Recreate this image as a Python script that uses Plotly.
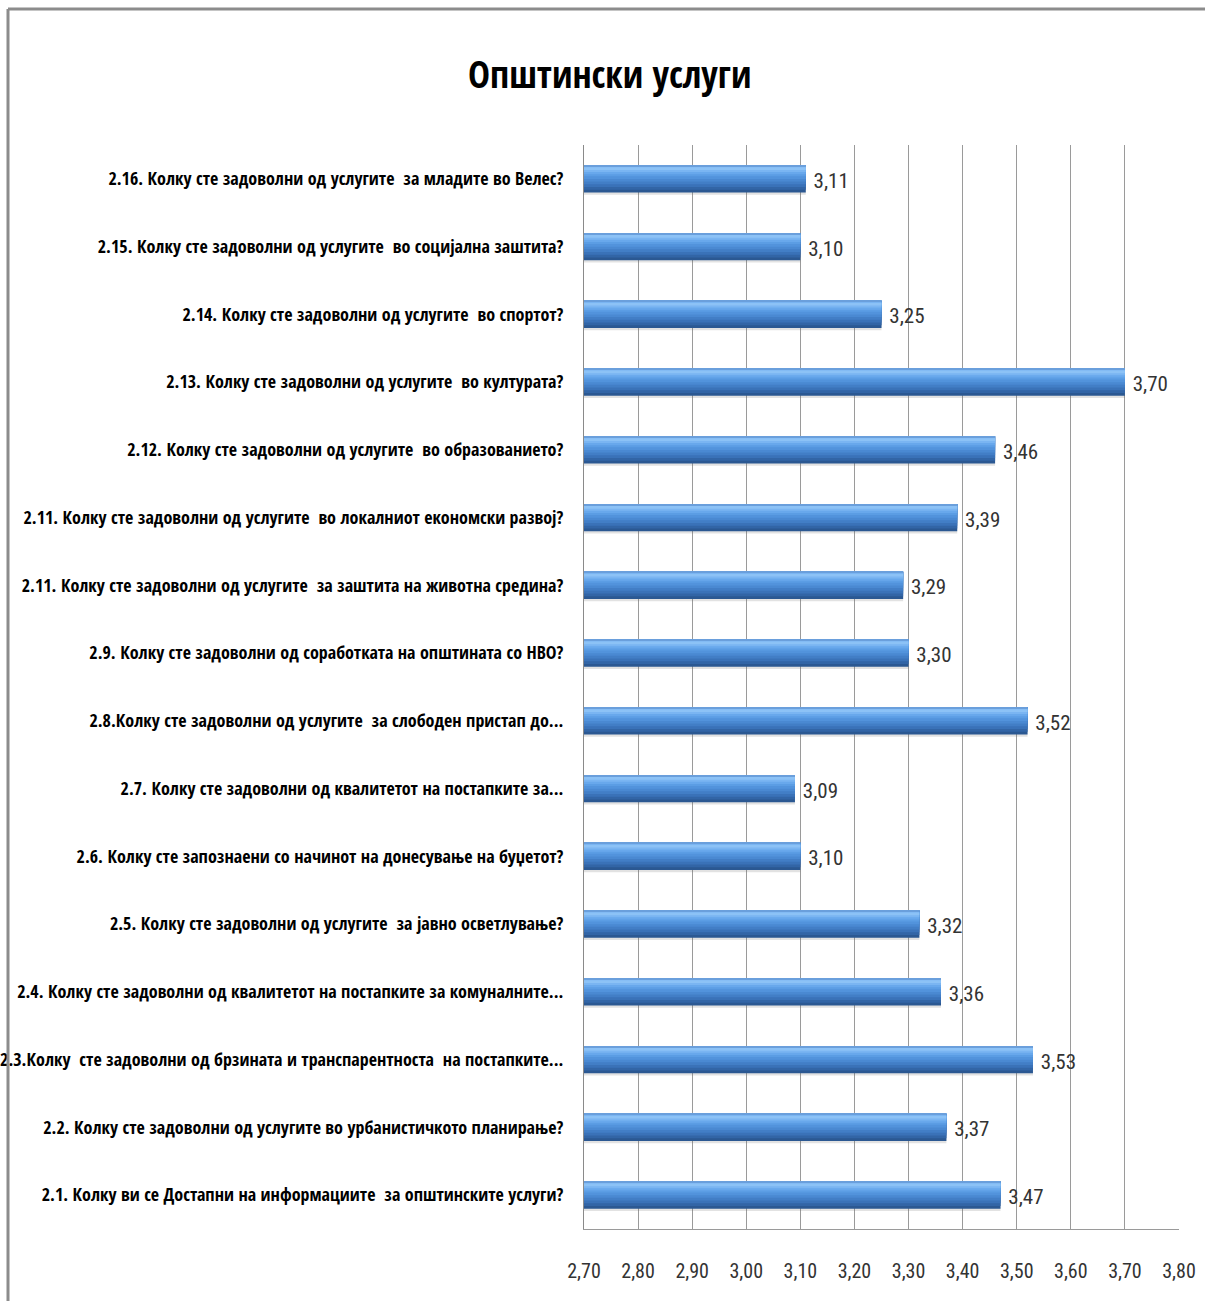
import plotly.graph_objects as go

# Survey questions, listed top to bottom as they appear on the chart
questions = [
    "2.16. Колку сте задоволни од услугите  за младите во Велес?",
    "2.15. Колку сте задоволни од услугите  во социјална заштита?",
    "2.14. Колку сте задоволни од услугите  во спортот?",
    "2.13. Колку сте задоволни од услугите  во културата?",
    "2.12. Колку сте задоволни од услугите  во образованието?",
    "2.11. Колку сте задоволни од услугите  во локалниот економски развој?",
    "2.11. Колку сте задоволни од услугите  за заштита на животна средина?",
    "2.9. Колку сте задоволни од соработката на општината со НВО?",
    "2.8.Колку сте задоволни од услугите  за слободен пристап до...",
    "2.7. Колку сте задоволни од квалитетот на постапките за...",
    "2.6. Колку сте запознаени со начинот на донесување на буџетот?",
    "2.5. Колку сте задоволни од услугите  за јавно осветлување?",
    "2.4. Колку сте задоволни од квалитетот на постапките за комуналните...",
    "2.3.Колку  сте задоволни од брзината и транспарентноста  на постапките...",
    "2.2. Колку сте задоволни од услугите во урбанистичкото планирање?",
    "2.1. Колку ви се Достапни на информациите  за општинските услуги?",
]

# Average satisfaction score per question
scores = [3.11, 3.10, 3.25, 3.70, 3.46, 3.39, 3.29, 3.30,
          3.52, 3.09, 3.10, 3.32, 3.36, 3.53, 3.37, 3.47]

x_ticks = [2.70, 2.80, 2.90, 3.00, 3.10, 3.20, 3.30, 3.40, 3.50, 3.60, 3.70, 3.80]
x_range = [2.70, 3.80]

title_text = "Општински услуги"

BOLD_NARROW = "Open Sans Condensed, Roboto Condensed, sans-serif"
THIN_NARROW = "Roboto Condensed, Open Sans Condensed, sans-serif"

BAR_W = 0.40
fig = go.Figure()

# Soft drop shadow under each bar
fig.add_trace(go.Bar(
    x=scores, y=questions, orientation="h",
    width=BAR_W, offset=-BAR_W / 2 + 0.035,
    marker=dict(color="rgba(110,110,110,0.20)", line=dict(width=0)),
    hoverinfo="skip", showlegend=False,
))

# Cylinder-like shading built from stacked strips (dark base to light top)
strips = [
    (0.400, -0.200, "#2b5892"),
    (0.360, -0.200, "#3265a6"),
    (0.320, -0.200, "#3a72b8"),
    (0.280, -0.200, "#427ec6"),
    (0.240, -0.200, "#4a89d2"),
    (0.200, -0.200, "#5293dc"),
    (0.160, -0.200, "#5b9de4"),
    (0.120, -0.190, "#68a8ec"),
    (0.080, -0.180, "#7ab5f2"),
    (0.040, -0.170, "#8cc2f6"),
    (0.015, -0.200, "#6a9fdc"),
]
for w, off, col in strips:
    fig.add_trace(go.Bar(
        x=scores, y=questions, orientation="h",
        width=w, offset=off,
        marker=dict(color=col, line=dict(width=0)),
        hoverinfo="skip", showlegend=False,
    ))

# Value labels, drawn from the same scores
fig.add_trace(go.Bar(
    x=scores, y=questions, orientation="h",
    width=BAR_W, offset=-BAR_W / 2 + 0.03,
    marker=dict(color="rgba(0,0,0,0)", line=dict(width=0)),
    text=["\u00a0" + f"{v:.2f}".replace(".", ",") for v in scores],
    textposition="outside", cliponaxis=False,
    textfont=dict(family=THIN_NARROW, size=21, color="#333333", weight="normal"),
    showlegend=False,
))

fig.update_layout(
    width=1205, height=1301,
    margin=dict(l=584, r=26, t=145, b=72),
    paper_bgcolor="white", plot_bgcolor="white",
    barmode="overlay",
    separators=",.",
    title=dict(
        text=f"<b>{title_text}</b>",
        x=0.506, xanchor="center", y=0.942, yanchor="middle",
        font=dict(family=BOLD_NARROW, size=37, color="black"),
    ),
    xaxis=dict(
        range=x_range, tickvals=x_ticks, tickformat=".2f",
        showgrid=True, gridcolor="#9a9a9a", gridwidth=1,
        zeroline=False, showline=True, linecolor="#9a9a9a", linewidth=1,
        ticks="", ticklabelstandoff=24, automargin=False, tickangle=0,
        tickfont=dict(family=THIN_NARROW, size=20, color="#333333", weight="normal"),
        fixedrange=True,
    ),
    yaxis=dict(
        autorange="reversed", type="category",
        showline=True, linecolor="#8a8a8a", linewidth=1,
        showgrid=False, ticks="", ticklabelstandoff=16, automargin=False,
        tickfont=dict(family=BOLD_NARROW, size=18, color="black", weight="bold"),
        fixedrange=True,
    ),
    shapes=[
        dict(type="line", xref="paper", yref="paper",
             x0=(8 - 584) / 595, x1=(1205 - 584) / 595,
             y0=(1229 - 9) / 1084, y1=(1229 - 9) / 1084,
             line=dict(color="#8c8c8c", width=3)),
        dict(type="line", xref="paper", yref="paper",
             x0=(8 - 584) / 595, x1=(8 - 584) / 595,
             y0=(1229 - 9) / 1084, y1=(1229 - 1301) / 1084,
             line=dict(color="#8c8c8c", width=3)),
    ],
)

fig.write_html("out.html")
